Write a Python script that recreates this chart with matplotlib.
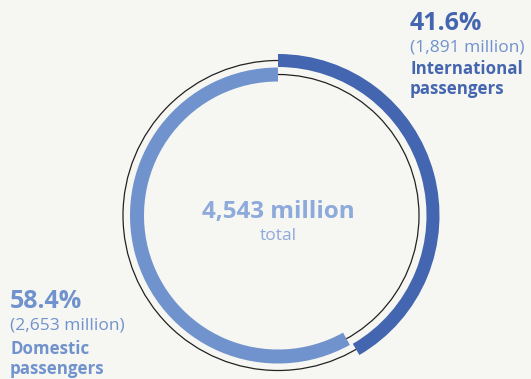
import matplotlib.pyplot as plt
from matplotlib.patches import Wedge, Circle

shares = [41.6, 58.4]
millions = ["1,891", "2,653"]
names = [["International", "passengers"], ["Domestic", "passengers"]]
total = "4,543"

bg = "#f6f6f2"
dark = "#4466b0"
light = "#7092cd"

plt.rcParams['font.family'] = ['Open Sans', 'DejaVu Sans']

fig = plt.figure(figsize=(5.31, 3.79), dpi=100, facecolor=bg)
ax = fig.add_axes([0, 0, 1, 1])
ax.set_xlim(0, 531)
ax.set_ylim(0, 379)
ax.set_aspect('equal')
ax.axis('off')
ax.set_facecolor(bg)

cx, cy = 278, 379 - 215.5

# thin outline circles
ax.add_patch(Circle((cx, cy), 155, fill=False, lw=0.9, ec="#222222", zorder=1))
ax.add_patch(Circle((cx, cy), 141, fill=False, lw=0.9, ec="#222222", zorder=1))

# arcs (clockwise from 12 o'clock)
ang_int = shares[0] / 100 * 360
ax.add_patch(Wedge((cx, cy), 161.5, 90 - ang_int, 90, width=13, fc=dark, ec='none', zorder=2))
ax.add_patch(Wedge((cx, cy), 148, 90, 360 + 90 - ang_int - 1.2, width=14, fc=light, ec='none', zorder=2))

# center label
ax.text(cx, 379 - 218, total + " million", ha='center', va='baseline',
        fontsize=17.5, fontweight='bold', color="#8eaadb")
ax.text(cx, 379 - 240, "total", ha='center', va='baseline',
        fontsize=12.5, color="#8eaadb")

# international label
x0 = 410
ax.text(x0, 379 - 30, f"{shares[0]}%", ha='left', va='baseline',
        fontsize=18, fontweight='bold', color=dark)
ax.text(x0, 379 - 52, f"({millions[0]} million)", ha='left', va='baseline',
        fontsize=12.5, color=light)
ax.text(x0, 379 - 74, names[0][0], ha='left', va='baseline',
        fontsize=12.2, fontweight='bold', color=dark)
ax.text(x0, 379 - 94, names[0][1], ha='left', va='baseline',
        fontsize=12.2, fontweight='bold', color=dark)

# domestic label
x1 = 10
ax.text(x1, 379 - 308, f"{shares[1]}%", ha='left', va='baseline',
        fontsize=18, fontweight='bold', color=light)
ax.text(x1, 379 - 329, f"({millions[1]} million)", ha='left', va='baseline',
        fontsize=12.5, color=light)
ax.text(x1, 379 - 354, names[1][0], ha='left', va='baseline',
        fontsize=12.2, fontweight='bold', color=light)
ax.text(x1, 379 - 374, names[1][1], ha='left', va='baseline',
        fontsize=12.2, fontweight='bold', color=light)

plt.savefig("out.png", dpi=100, facecolor=bg)
